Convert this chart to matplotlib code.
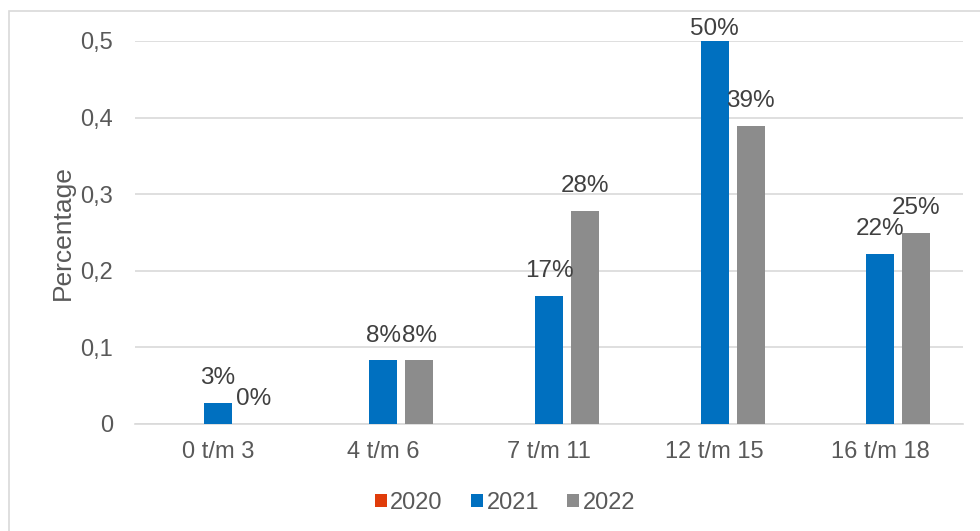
import matplotlib.pyplot as plt
from matplotlib.patches import Rectangle
from matplotlib.ticker import FuncFormatter
import numpy as np

plt.rcParams['font.family'] = ['Liberation Sans', 'DejaVu Sans']

categories = ["0 t/m 3", "4 t/m 6", "7 t/m 11", "12 t/m 15", "16 t/m 18"]
series_names = ["2020", "2021", "2022"]
values_2020 = [None, None, None, None, None]
values_2021 = [0.028, 0.083, 0.167, 0.5, 0.222]
values_2022 = [0.0, 0.083, 0.278, 0.389, 0.25]
colors = ["#E03C0A", "#0070C0", "#8C8C8C"]

W, H = 980, 531
fig = plt.figure(figsize=(W / 100, H / 100), dpi=100)

# light outer chart border
fig.patches.append(Rectangle((9 / W, -0.01), 1.0, 1 - 11 / H + 0.01, transform=fig.transFigure,
                             fill=False, edgecolor="#D9D9D9", linewidth=1.2))

ax = fig.add_axes([135 / W, (H - 424) / H, (963 - 135) / W, (424 - 41) / H])

x = np.arange(len(categories))
bw = 0.169
step = 0.217
text_col = "#595959"

for i, (name, vals) in enumerate(zip(series_names, [values_2020, values_2021, values_2022])):
    pos = x + (i - 1) * step
    v = [np.nan if a is None else a for a in vals]
    ax.bar(pos, v, width=bw, color=colors[i], label=name, zorder=3)
    for p, val in zip(pos, vals):
        if val is None:
            continue
        # labels at the top of the plot get pushed down, like excel does
        off = 1 if val >= 0.48 else 10
        ax.annotate(f"{round(val * 100):.0f}%", (p, val), xytext=(0, off), textcoords="offset points",
                    ha="center", va="bottom", fontsize=17.5, color="#404040", zorder=4)

ax.set_xlim(-0.5, len(categories) - 0.5)
ax.set_ylim(0, 0.5)
ax.set_yticks([0, 0.1, 0.2, 0.3, 0.4, 0.5])
ax.yaxis.set_major_formatter(FuncFormatter(lambda v, _: "0" if v == 0 else f"{v:.1f}".replace(".", ",")))
ax.set_xticks(x)
ax.set_xticklabels(categories)
ax.tick_params(axis="both", length=0, labelsize=17, colors=text_col)
ax.tick_params(axis="x", pad=12)
ax.tick_params(axis="y", pad=16)
ax.grid(axis="y", color="#D9D9D9", linewidth=1.2, zorder=0)
for s in ["top", "right", "left"]:
    ax.spines[s].set_visible(False)
ax.spines["bottom"].set_color("#D9D9D9")
ax.spines["bottom"].set_linewidth(1.2)
ax.set_ylabel("Percentage", fontsize=19, color=text_col, labelpad=4)

leg = ax.legend(loc="center", bbox_to_anchor=((505 - 135) / 828, (H - 503 - (H - 424)) / (424 - 41)), ncol=3,
                frameon=False, fontsize=17, handlelength=0.5, handleheight=0.5, handletextpad=0.15,
                columnspacing=1.2)
for t in leg.get_texts():
    t.set_color(text_col)

fig.savefig("out.png", dpi=100)
